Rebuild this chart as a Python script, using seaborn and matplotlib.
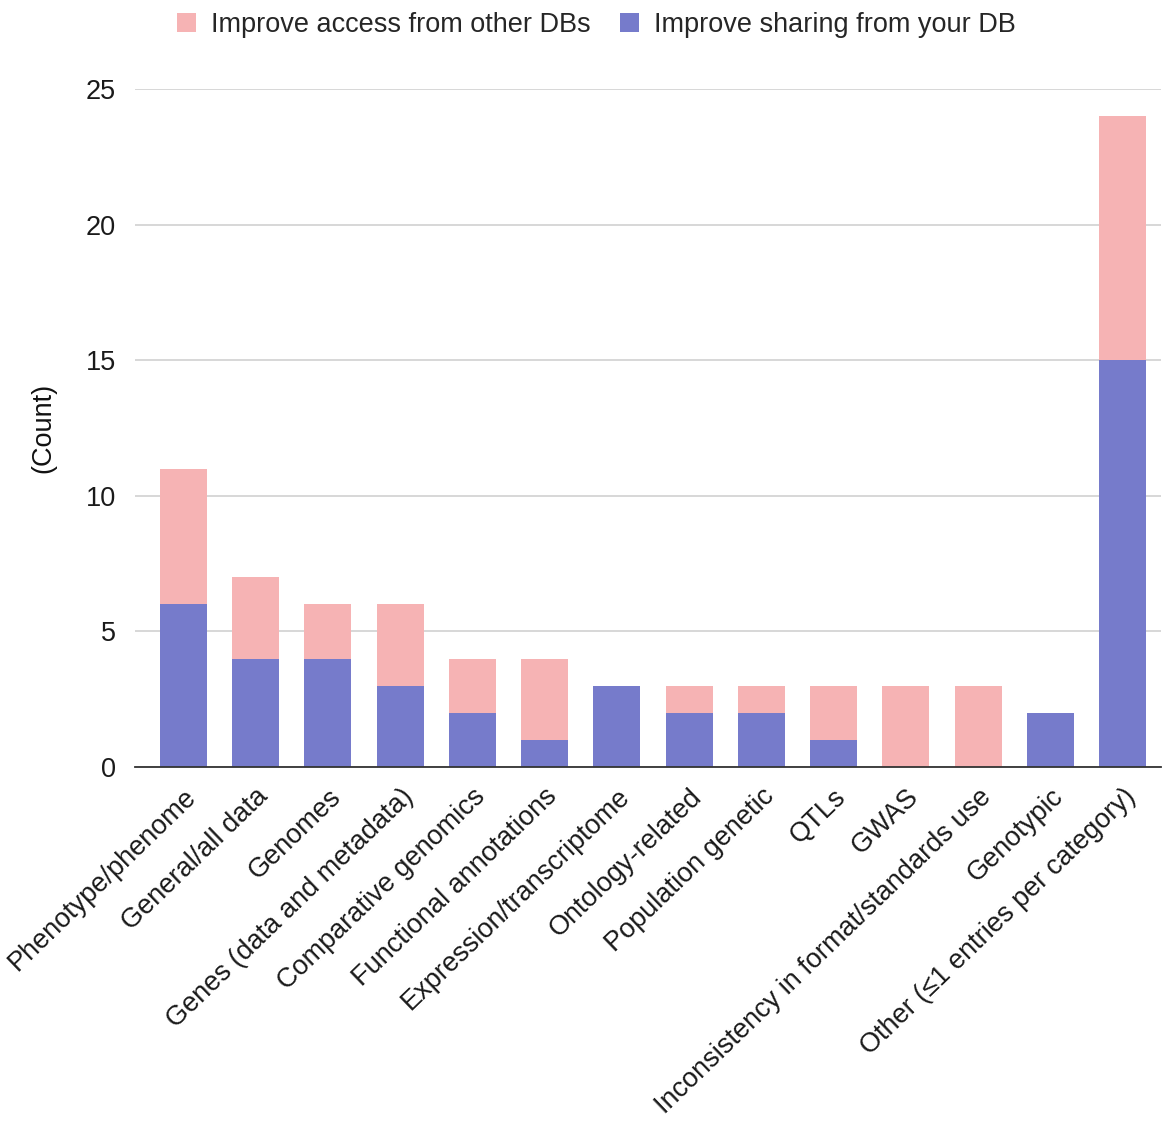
import matplotlib
matplotlib.use("Agg")
import matplotlib.pyplot as plt
from matplotlib.patches import Patch
import seaborn as sns
import pandas as pd

categories = [
    "Phenotype/phenome", "General/all data", "Genomes",
    "Genes (data and metadata)", "Comparative genomics",
    "Functional annotations", "Expression/transcriptome",
    "Ontology-related", "Population genetic", "QTLs", "GWAS",
    "Inconsistency in format/standards use", "Genotypic",
    "Other (\u22641 entries per category)",
]
sharing_your_db = [6, 4, 4, 3, 2, 1, 3, 2, 2, 1, 0, 0, 2, 15]
access_other_dbs = [5, 3, 2, 3, 2, 3, 0, 1, 1, 2, 3, 3, 0, 9]
yticks = [0, 5, 10, 15, 20, 25]

PINK = "#F6B3B4"
BLUE = "#767BCB"

sns.set_theme(style="white")
plt.rcParams["font.family"] = ["Liberation Sans", "DejaVu Sans"]

df = pd.DataFrame({
    "category": categories,
    "sharing": sharing_your_db,
    "access": access_other_dbs,
})
df["total"] = df["sharing"] + df["access"]

FS = 19.5

fig = plt.figure(figsize=(11.62, 11.24), dpi=100)
ax = fig.add_axes([0.1165, 0.3176, 0.8825, 0.6032])

sns.barplot(data=df, x="category", y="total", color=PINK, saturation=1,
            width=0.65, ax=ax, linewidth=0)
sns.barplot(data=df, x="category", y="sharing", color=BLUE, saturation=1,
            width=0.65, ax=ax, linewidth=0)

ax.set_ylim(0, 25)
ax.set_xlim(-0.665, 13.53)
ax.set_yticks(yticks)
ax.yaxis.grid(True, color="#d4d4d4", linewidth=1.3)
ax.set_axisbelow(True)
for s in ["top", "right", "left"]:
    ax.spines[s].set_visible(False)
ax.spines["bottom"].set_color("#333333")
ax.spines["bottom"].set_linewidth(1.3)
ax.tick_params(axis="y", length=0, labelsize=FS, colors="#1a1a1a", pad=14)
ax.tick_params(axis="x", length=0, labelsize=FS, colors="#1a1a1a", pad=12)
ax.set_xlabel("")
ax.set_ylabel("(Count)", fontsize=FS, color="#111111")
ax.yaxis.set_label_coords(-0.077, 0.5)
ax.set_xticks(range(len(categories)))
ax.set_xticklabels(categories, rotation=44, ha="right", rotation_mode="anchor")

handles = [Patch(facecolor=PINK, edgecolor="none"),
           Patch(facecolor=BLUE, edgecolor="none")]
fig.legend(handles, ["Improve access from other DBs", "Improve sharing from your DB"],
           loc="upper center", bbox_to_anchor=(0.513, 1.011), ncol=2, frameon=False,
           fontsize=FS, handlelength=0.7, handleheight=0.7, handletextpad=0.55,
           columnspacing=1.1)

fig.savefig("out.png", dpi=100)
